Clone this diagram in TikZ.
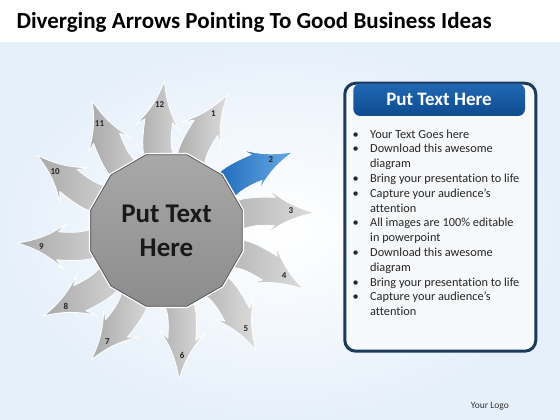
\documentclass[tikz,border=0pt]{standalone}
\usepackage{fontspec}
\setmainfont[Ligatures=NoCommon]{Carlito}
\usetikzlibrary{shapes.geometric}
\definecolor{hubtop}{HTML}{A8A8A8}
\definecolor{hubbot}{HTML}{8C8C8C}
\definecolor{arrlight}{HTML}{DCDCDC}
\definecolor{arrdark}{HTML}{A9A9A9}
\definecolor{bluelight}{HTML}{6AAAE6}
\definecolor{bluedark}{HTML}{0A5BB0}
\definecolor{navy}{HTML}{1B3A5C}
\definecolor{panelbg}{HTML}{F7F8FA}
\definecolor{headtop}{HTML}{2168B3}
\definecolor{headbot}{HTML}{0E4B8F}
\definecolor{bgblue}{HTML}{E6F0FA}

\begin{document}
\begin{tikzpicture}[line cap=round,line join=round,x=1pt,y=1pt,
	arr/.style={draw=white,line width=0.8pt},
	num/.style={font=\fontsize{9}{10}\selectfont\bfseries,text=black!85},
	hub/.style={regular polygon,regular polygon sides=12,minimum size=157pt,inner sep=0pt,
		draw=black!65,line width=0.8pt,top color=hubtop,bottom color=hubbot,
		preaction={draw=white,line width=3.4pt},align=center,
		font=\fontsize{27}{34}\selectfont\bfseries,text=black!90},
	panel/.style={draw=navy,line width=3pt,fill=panelbg,rounded corners=11pt},
	list/.style={inner sep=0pt,anchor=north west,text=black!85,
		font=\fontsize{12.3}{14.8}\selectfont}]
	\useasboundingbox (0,0) rectangle (560,420);
	% background
	\fill[bgblue] (0,0) rectangle (560,420);
	\shade[inner color=white,outer color=bgblue] (0,0) rectangle (560,378);
	\fill[white] (0,378) rectangle (560,420);
	\node[anchor=base west,font=\fontsize{23}{27}\selectfont\bfseries] (title) at (13,391.7) {Diverging Arrows Pointing To Good Business Ideas};
	% arrows round the hub
	\foreach \n/\a/\ca/\cb in {12/94/arrlight/arrdark,1/69/arrlight/arrdark,3/10/arrlight/arrdark,4/-20/arrlight/arrdark,
		5/-50/arrlight/arrdark,6/-82/arrlight/arrdark,7/-117/arrlight/arrdark,8/-142/arrlight/arrdark,
		9/-172/arrlight/arrdark,10/153/arrlight/arrdark,11/123/arrlight/arrdark,2/35/bluelight/bluedark}{
		\begin{scope}[shift={(166.5,189.5)},rotate=\a]
			\shade[arr,top color=\ca,bottom color=\cb,shading angle=-90] (37.0,-0.5) .. controls (65.7,19.6) and (78.7,21.0) .. (112.9,13.7) -- (107.0,24.2) to[bend right=12] (149.1,-8.3) to[bend right=12] (97.4,-20.8) -- (107.1,-13.7) .. controls (82.7,-8.5) and (73.5,-9.2) .. (53.0,-23.5) -- cycle;
			\node[num] (n\n) at (126,-2) {\n};
		\end{scope}
	}
	\node[hub] (hub) at (166.5,189.5) {Put Text\\Here};
	% text panel
	\draw[panel] (344.8,68.8) rectangle (535.8,336.8);
	\shade[top color=headtop,bottom color=headbot,rounded corners=7pt] (353.3,304) rectangle (525,336.3);
	\node[text=white,font=\fontsize{19}{22}\selectfont\bfseries] (head) at (439,321) {Put Text Here};
	\node[list] (items) at (352.5,292.5) {\begin{tabular}{@{}p{17.5pt}@{}l@{}}
		\textbullet & Your Text Goes here\\
		\textbullet & Download this awesome\\
		& diagram\\
		\textbullet & Bring your presentation to life\\
		\textbullet & Capture your audience’s\\
		& attention\\
		\textbullet & All images are 100\% editable\\
		& in powerpoint\\
		\textbullet & Download this awesome\\
		& diagram\\
		\textbullet & Bring your presentation to life\\
		\textbullet & Capture your audience’s\\
		& attention
	\end{tabular}};
	\node[anchor=base east,font=\fontsize{9.5}{11}\selectfont,text=black!80] (logo) at (512.3,11) {Your Logo};
\end{tikzpicture}
\end{document}
